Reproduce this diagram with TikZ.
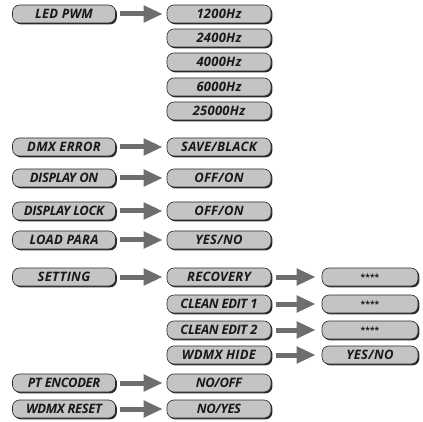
\documentclass[tikz,border=0pt]{standalone}
\usepackage{fontspec}
\setmainfont{Open Sans}
\usetikzlibrary{arrows.meta,shadows}
\definecolor{boxfill}{HTML}{C4C4C4}
\definecolor{boxline}{HTML}{2A2A2A}
\definecolor{arrowgray}{HTML}{6E6E6E}
\newcommand{\boxfont}{\fontsize{13}{14}\selectfont\bfseries\itshape\addfontfeature{LetterSpace=2}}
\newcommand{\tightfont}{\fontsize{13}{14}\selectfont\bfseries\itshape\addfontfeature{LetterSpace=-3}}
\tikzset{
  menubox/.style={draw=boxline, line width=0.6pt, fill=boxfill, rounded corners=7pt,
    minimum height=18pt, inner sep=0pt, text=black!90, font=\boxfont,
    drop shadow={shadow xshift=1.4pt, shadow yshift=-1.4pt, opacity=1, fill=boxline}},
  lbox/.style={menubox, minimum width=103pt},
  mbox/.style={menubox, minimum width=104pt},
  rbox/.style={menubox, minimum width=96pt},
  tight/.style={font=\tightfont},
  bigarrow/.style={draw=arrowgray, line width=5pt,
    -{Triangle[length=19pt,width=16pt]}},
  starfont/.style={font=\fontsize{8.5}{9}\selectfont\bfseries}
}
\begin{document}
\begin{tikzpicture}[x=1pt,y=-1pt]
\useasboundingbox (0,0) rectangle (423,422);
% left column
\node[lbox] (l1) at (64,14) {LED PWM};
\node[lbox] (l2) at (64,147) {DMX ERROR};
\node[lbox, tight] (l3) at (64,178) {DISPLAY ON};
\node[lbox, tight] (l4) at (64,211) {DISPLAY LOCK};
\node[lbox] (l5) at (64,240) {LOAD PARA};
\node[lbox] (l6) at (64,277) {SETTING};
\node[lbox, tight] (l7) at (64,383) {PT ENCODER};
\node[lbox, tight] (l8) at (64,409) {WDMX RESET};
% middle column
\node[mbox] (m1) at (219,14) {1200Hz};
\node[mbox] (m2) at (219,38) {2400Hz};
\node[mbox] (m3) at (219,62) {4000Hz};
\node[mbox] (m4) at (219,87) {6000Hz};
\node[mbox] (m5) at (219,111) {25000Hz};
\node[mbox] (m6) at (219,147) {SAVE/BLACK};
\node[mbox] (m7) at (219,178) {OFF/ON};
\node[mbox] (m8) at (219,211) {OFF/ON};
\node[mbox] (m9) at (219,240) {YES/NO};
\node[mbox] (m10) at (219,277) {RECOVERY};
\node[mbox, tight] (m11) at (219,304) {CLEAN EDIT 1};
\node[mbox, tight] (m12) at (219,330) {CLEAN EDIT 2};
\node[mbox] (m13) at (219,355) {WDMX HIDE};
\node[mbox, tight] (m14) at (219,383) {NO/OFF};
\node[mbox, tight] (m15) at (219,409) {NO/YES};
% right column
\node[rbox, starfont] (r1) at (370,277) {****};
\node[rbox, starfont] (r2) at (370,304) {****};
\node[rbox, starfont] (r3) at (370,330) {****};
\node[rbox] (r4) at (370,355) {YES/NO};
% arrows left -> middle
\foreach \a/\b in {l1/m1,l2/m6,l3/m7,l4/m8,l5/m9,l6/m10,l7/m14,l8/m15}
  \draw[bigarrow, shorten <=4.5pt, shorten >=4pt] (\a.east) -- (\b.west);
% arrows middle -> right
\foreach \a/\b in {m10/r1,m11/r2,m12/r3,m13/r4}
  \draw[bigarrow, shorten <=4.5pt, shorten >=6pt] (\a.east) -- (\b.west);
\end{tikzpicture}
\end{document}
